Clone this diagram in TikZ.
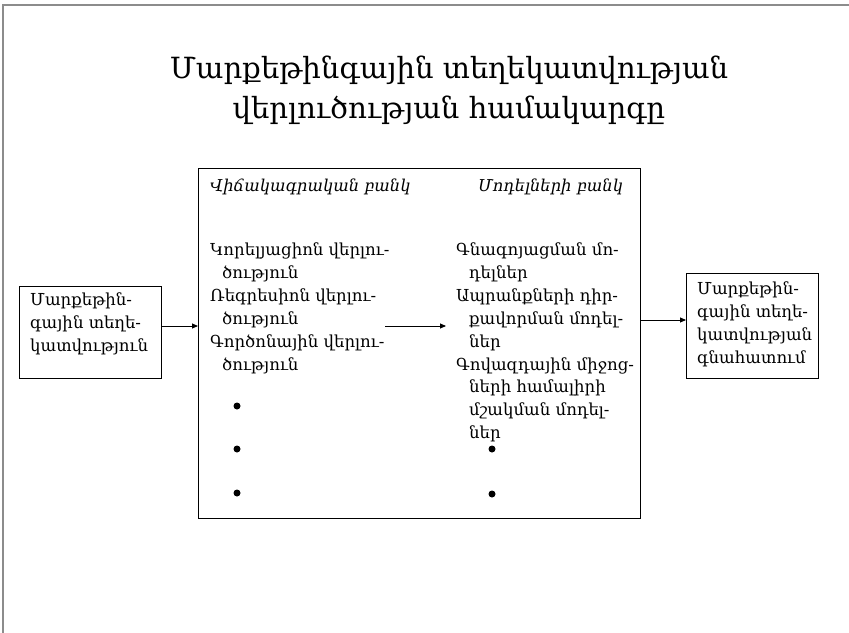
\documentclass[tikz,border=0pt]{standalone}
\usepackage{fontspec}
\setmainfont{DejaVu Serif}
\usetikzlibrary{arrows.meta}
\begin{document}
\begin{tikzpicture}[x=1bp,y=-1bp,
  box/.style={draw=black, line width=0.9bp, inner sep=0pt},
  body/.style={font=\fontsize{16.6}{22.9}\selectfont, align=left, inner sep=0pt, anchor=north west},
  head/.style={font=\fontsize{16.4}{20}\selectfont\itshape, inner sep=0pt, anchor=base west},
  flow/.style={line width=0.9bp, -{Triangle[length=6bp,width=5bp]}},
  dot/.style={circle, fill=black, inner sep=0pt, minimum size=7bp}]
\useasboundingbox (0,0) rectangle (849,633);
% page frame
\draw[gray!90, line width=1.5bp] (3,633) -- (3,5) -- (849,5);
% title
\node[font=\fontsize{29.3}{39.5}\selectfont, align=center, anchor=north, inner sep=0pt] (title) at (449,56)
  {Մարքեթինգային տեղեկատվության\\վերլուծության համակարգը};
% boxes
\node[box, minimum width=442bp, minimum height=350bp, anchor=north west] (main) at (198,168) {};
\node[box, minimum width=142bp, minimum height=92bp, anchor=north west] (src) at (19,286) {};
\node[box, minimum width=132bp, minimum height=105bp, anchor=north west] (dst) at (686,273) {};
% box texts
\node[body] (srctxt) at (30,293) {Մարքեթին-\\գային տեղե-\\կատվություն};
\node[body] (dsttxt) at (697,282) {Մարքեթին-\\գային տեղե-\\կատվության\\գնահատում};
% bank headers
\node[head] (stat) at (210,192) {Վիճակագրական բանկ};
\node[head] (model) at (478,192) {Մոդելների բանկ};
% left list
\node[body] (lst1) at (210,243) {Կորելյացիոն վերլու-\\\hspace*{12bp}ծություն\\Ռեգրեսիոն վերլու-\\\hspace*{12bp}ծություն\\Գործոնային վերլու-\\\hspace*{12bp}ծություն};
% right list
\node[body] (lst2) at (456,243) {Գնագոյացման մո-\\\hspace*{13bp}դելներ\\Ապրանքների դիր-\\\hspace*{13bp}քավորման մոդել-\\\hspace*{13bp}ներ\\Գովազդային միջոց-\\\hspace*{13bp}ների համալիրի\\\hspace*{13bp}մշակման մոդել-\\\hspace*{13bp}ներ};
% bullets
\node[dot] (l1) at (237,406) {};
\node[dot] (l2) at (237,449) {};
\node[dot] (l3) at (237,493) {};
\node[dot] (r1) at (492,449) {};
\node[dot] (r2) at (492,494) {};
% connectors
\coordinate (mid1) at (385,326);
\coordinate (mid2) at (446,326);
\draw[flow] (src.east |- 0,326) -- (main.west |- 0,326);
\draw[flow] (mid1) -- (mid2);
\draw[flow] (main.east |- 0,320) -- (dst.west |- 0,320);
\end{tikzpicture}
\end{document}
